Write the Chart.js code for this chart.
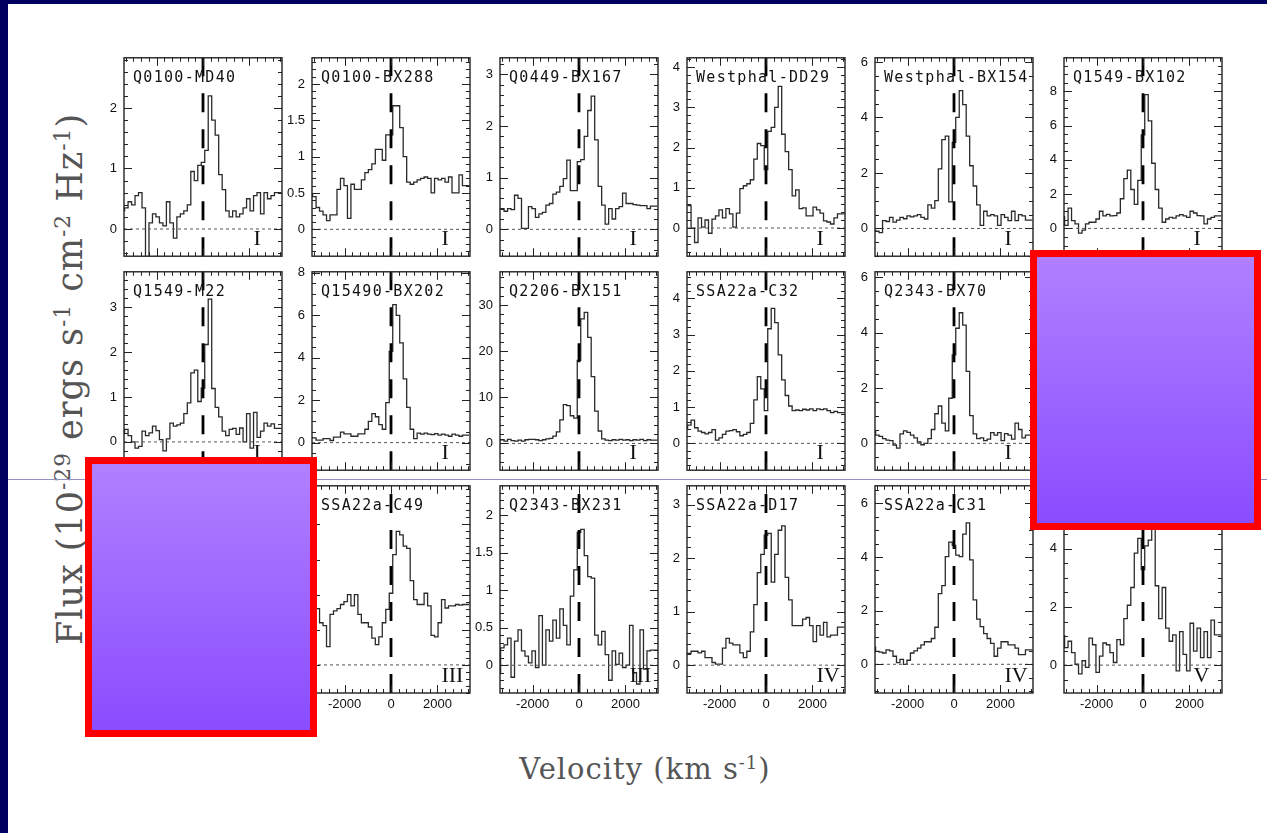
<!DOCTYPE html>
<html lang="es">
<head>
<meta charset="utf-8">
<title>Perfiles Lya por velocidad</title>
<script src="https://cdn.jsdelivr.net/npm/chart.js@4.4.1/dist/chart.umd.min.js"></script>
<style>
  html, body { margin: 0; padding: 0; }
  body { width: 1267px; height: 833px; position: relative; overflow: hidden; background: #fff; }
  .borde-izq { position: absolute; left: 0; top: 0; width: 8px; height: 833px; background: #000060; z-index: 4; }
  .borde-sup { position: absolute; left: 0; top: 0; width: 1267px; height: 4px; background: #000060; z-index: 4; }
  .linea { position: absolute; left: 8px; top: 479px; width: 1259px; height: 1px; background: #9090c4; z-index: 2; }
  canvas.panel { position: absolute; z-index: 1; }
  .tapa { position: absolute; box-sizing: border-box; border: 7px solid #ff0000; background: linear-gradient(#b080ff, #8a4cff); z-index: 3; }
  .titulo { position: absolute; font-family: "DejaVu Serif", serif; color: #555; white-space: nowrap; line-height: 1; letter-spacing: 1px; }
  .titulo sup { font-size: 0.62em; vertical-align: 0.55em; line-height: 0; }
  #tituloY { left: 70px; top: 379px; font-size: 35px; transform: translate(-50%, -50%) rotate(-90deg); }
  #tituloX { left: 645px; top: 755px; font-size: 29px; transform: translateX(-50%); }
</style>
</head>
<body>
<div class="borde-izq"></div>
<div class="borde-sup"></div>
<div class="linea"></div>
<div class="tapa" style="left:85px; top:457px; width:232px; height:280px;"></div>
<div class="tapa" style="left:1030px; top:250px; width:231px; height:280px;"></div>
<div class="titulo" id="tituloY">Flux (10<sup>-29</sup> ergs s<sup>-1</sup> cm<sup>-2</sup> Hz<sup>-1</sup>)</div>
<div class="titulo" id="tituloX">Velocity (km s<sup>-1</sup>)</div>

<script>
// ---------------- datos ----------------
const nombres = ["Q0100-MD40", "Q0100-BX288", "Q0449-BX167", "Westphal-DD29", "Westphal-BX154", "Q1549-BX102",
  "Q1549-M22", "Q15490-BX202", "Q2206-BX151", "SSA22a-C32", "Q2343-BX70",
  "SSA22a-C49", "Q2343-BX231", "SSA22a-D17", "SSA22a-C31", ""]; // el ultimo queda tapado
const clases = ["I", "I", "I", "I", "I", "I",
  "I", "I", "I", "I", "I",
  "III", "III", "IV", "IV", "V"];

const velTicks = [-2000, 0, 2000]; // etiquetas del eje x (solo fila de abajo)
const velMin = -3400;
const velMax = 3400;
const binInicio = -3375; // borde izquierdo del primer canal (km/s)
const binAncho = 150;

const yMin = [-0.45, -0.37, -0.52, -0.7, -1.0, -1.62, -0.63, -1.3, -5.8, -0.74, -0.97, -0.4, -0.37, -0.52, -1.07, -0.96];
const yMax = [2.83, 2.36, 3.32, 4.23, 6.15, 9.95, 3.79, 8.05, 37.2, 4.73, 6.2, 2.55, 2.39, 3.35, 6.65, 6.17];
const yTicks = [[0, 1, 2], [0, 0.5, 1, 1.5, 2], [0, 1, 2, 3], [0, 1, 2, 3, 4], [0, 2, 4, 6], [0, 2, 4, 6, 8],
  [0, 1, 2, 3], [0, 2, 4, 6, 8], [0, 10, 20, 30], [0, 1, 2, 3, 4], [0, 2, 4, 6],
  [0, 0.5, 1, 1.5, 2], [0, 0.5, 1, 1.5, 2], [0, 1, 2, 3], [0, 2, 4, 6], [0, 2, 4, 6]];
const yMenor = [0.2, 0.1, 0.2, 0.2, 0.5, 0.5, 0.2, 0.5, 2, 0.2, 0.5, 0.1, 0.1, 0.2, 0.5, 0.5];

// flujo por canal de velocidad
const f_Q0100_MD40 = [0.29, 0.35, 0.45, 0.4, 0.55, 0.6, 0.35, -0.5, 0.1, 0.25, 0.2, 0.1, 0.05, 0.45, 0.1, -0.15, 0.2, 0.25, 0.3, 0.4,
  0.95, 0.8, 1.05, 1.1, 1.3, 2.2, 1.8, 1.55, 0.9, 0.65, 0.3, 0.2, 0.3, 0.2, 0.25, 0.35, 0.5, 0.3, 0.55, 0.6, 0.25, 0.6, 0.5, 0.55, 0.6];
const f_Q0100_BX288 = [0.5, 0.45, 0.3, 0.25, 0.2, 0.12, 0.2, 0.2, 0.55, 0.7, 0.6, 0.15, 0.62, 0.55, 0.55, 0.68, 0.78, 0.82, 0.9, 1.1,
  1.1, 0.95, 1.3, 1.3, 1.7, 1.7, 1.4, 1.0, 0.65, 0.62, 0.65, 0.68, 0.7, 0.72, 0.7, 0.5, 0.7, 0.68, 0.7, 0.65, 0.72, 0.5, 0.5, 0.75, 0.6];
const f_Q0449_BX167 = [0.38, 0.4, 0.35, 0.4, 0.38, 0.66, 0.6, 0.02, 0.02, 0.44, 0.4, 0.23, 0.3, 0.33, 0.47, 0.5, 0.68, 0.72, 0.83, 0.98,
  1.34, 0.75, 0.75, 1.31, 1.35, 1.8, 2.3, 2.58, 1.73, 0.83, 0.47, 0.1, 0.4, 0.2, 0.4, 0.44, 0.7, 0.5, 0.5, 0.48, 0.47, 0.46, 0.46, 0.4, 0.45];
const f_Westphal_DD29 = [0.56, 0.56, 0.0, -0.36, 0.25, 0.02, 0.2, -0.13, 0.22, 0.3, 0.45, 0.25, 0.48, 0.35, 0.02, 0.37, 0.98, 1.05, 1.1, 1.2,
  1.71, 2.1, 2.05, 1.45, 2.4, 2.5, 3.0, 3.52, 2.33, 1.9, 1.45, 0.8, 0.95, 0.48, 0.5, 0.3, 0.3, 0.52, 0.45, 0.37, 0.18, 0.15, 0.1, 0.25, 0.35];
const f_Westphal_BX154 = [-0.05, -0.1, -0.15, 0.28, 0.25, 0.4, 0.23, 0.3, 0.4, 0.35, 0.45, 0.42, 0.45, 0.5, 0.4, 0.34, 0.85, 0.73, 1.0, 2.15,
  3.2, 3.33, 0.96, 3.1, 4.0, 4.97, 4.46, 3.33, 2.26, 1.53, 0.85, 0.11, 0.62, 0.45, 0.5, 0.45, 0.11, 0.5, 0.4, 0.28, 0.62, 0.28, 0.5, 0.45, 0.3];
const f_Q1549_BX102 = [0.73, 0.18, 1.18, 0.45, 0.27, -0.27, -0.1, 0.27, 0.36, 0.36, 0.55, 1.0, 0.73, 0.82, 0.73, 0.75, 0.9, 1.73, 2.9, 3.4,
  2.27, 1.4, 2.8, 5.45, 7.8, 6.27, 3.8, 2.27, 1.18, 0.36, 0.55, 0.64, 0.6, 0.73, 0.8, 0.73, 0.64, 1.0, 0.9, 0.75, 0.73, 0.27, 0.55, 0.64, 0.73];
const f_Q1549_M22 = [0.17, 0.28, 0.14, 0.0, -0.14, -0.1, 0.24, 0.14, 0.2, 0.35, 0.25, 0.05, -0.2, 0.07, 0.42, 0.35, 0.38, 0.42, 0.63, 0.87,
  1.54, 1.6, 0.9, 1.2, 2.17, 3.18, 1.19, 0.77, 0.56, 0.24, 0.14, 0.28, 0.3, 0.17, 0.31, 0.0, 0.63, -0.14, 0.66, 0.1, 0.24, 0.42, 0.35, 0.4, 0.3];
const f_Q15490_BX202 = [0.26, 0.22, 0.12, 0.12, 0.19, 0.19, 0.1, 0.26, 0.26, 0.49, 0.41, 0.41, 0.3, 0.3, 0.41, 0.41, 0.63, 1.0, 1.37, 1.22,
  0.85, 0.63, 1.88, 4.3, 6.5, 6.0, 4.7, 3.0, 1.66, 0.63, 0.19, 0.45, 0.4, 0.45, 0.4, 0.38, 0.42, 0.35, 0.4, 0.35, 0.3, 0.4, 0.35, 0.3, 0.35];
const f_Q2206_BX151 = [0.6, 0.8, 0.5, 0.9, 0.6, 0.5, 0.7, 0.5, 0.8, 0.9, 0.9, 0.8, 0.6, 0.8, 1.0, 1.1, 1.6, 2.5, 5.1, 8.4,
  8.2, 6.0, 5.5, 18, 27, 28.4, 23, 14.5, 7, 2.7, 1.0, 0.7, 0.6, 0.8, 0.7, 0.9, 0.7, 0.8, 0.6, 0.8, 0.7, 0.9, 0.6, 0.8, 0.7];
const f_SSA22a_C32 = [0.38, 0.5, 0.64, 0.43, 0.34, 0.3, 0.26, 0.3, 0.38, 0.09, 0.15, 0.25, 0.34, 0.35, 0.38, 0.32, 0.21, 0.25, 0.3, 0.55,
  1.2, 1.84, 1.5, 0.9, 3.16, 3.72, 3.33, 2.44, 1.75, 1.32, 1.03, 0.9, 0.92, 0.9, 0.94, 0.92, 0.95, 0.9, 0.95, 0.93, 0.95, 0.9, 0.85, 0.88, 0.85];
const f_Q2343_BX70 = [0.45, 0.3, 0.25, 0.17, 0.12, 0.1, -0.06, -0.17, 0.34, 0.45, 0.4, 0.3, 0.2, 0.05, -0.05, 0.0, 0.17, 0.5, 1.07, 1.35,
  0.73, 0.45, 1.63, 3.2, 4.16, 4.72, 4.27, 2.6, 1.0, 0.34, 0.17, 0.2, 0.1, 0.15, 0.39, 0.3, 0.39, 0.1, 0.35, 0.3, 0.15, 0.73, 0.5, 0.2, 0.3];
const f_SSA22a_C49 = [1.0, 1.02, 0.8, 0.6, 0.56, 0.26, 0.72, 0.77, 0.8, 0.86, 0.9, 1.0, 0.84, 1.0, 0.72, 0.6, 0.6, 0.54, 0.38, 0.29,
  0.4, 0.6, 0.79, 1.02, 1.57, 1.9, 1.85, 1.69, 1.66, 1.2, 0.93, 0.86, 0.86, 1.02, 0.84, 0.42, 0.4, 0.6, 0.93, 0.81, 0.84, 0.84, 0.86, 0.85, 0.86];
const f_Q2343_BX231 = [-0.12, 0.23, 0.27, 0.36, -0.16, 0.32, 0.47, 0.19, 0.12, 0.03, 0.19, -0.03, 0.66, 0.0, 0.47, 0.32, 0.6, 0.36, 0.75, 0.53,
  0.27, 0.92, 1.27, 1.77, 1.81, 1.46, 1.18, 1.16, 0.4, 0.27, 0.45, 0.14, -0.2, 0.19, 0.01, 0.16, -0.03, 0.0, 0.53, -0.1, -0.25, 0.47, -0.05, 0.19, 0.2];
const f_SSA22a_D17 = [0.2, 0.22, 0.26, 0.26, 0.23, 0.26, 0.14, 0.14, 0.05, 0.02, 0.02, 0.32, 0.5, 0.41, 0.38, 0.38, 0.23, 0.14, 0.26, 0.62,
  1.13, 1.73, 2.07, 2.43, 2.46, 1.55, 2.07, 2.52, 2.6, 1.64, 1.22, 0.74, 0.74, 0.74, 0.86, 0.89, 0.74, 0.44, 0.74, 0.56, 0.8, 0.53, 0.56, 0.56, 0.71];
const f_SSA22a_C31 = [0.66, 0.48, 0.45, 0.42, 0.54, 0.5, 0.3, 0.06, 0.18, 0.0, 0.15, 0.42, 0.5, 0.6, 0.72, 0.84, 0.84, 0.96, 1.38, 2.63,
  2.93, 4.01, 4.55, 4.43, 4.07, 4.01, 4.85, 5.27, 3.89, 2.4, 1.68, 1.4, 1.14, 0.96, 0.78, 0.3, 0.6, 0.84, 0.84, 0.72, 0.72, 0.6, 0.36, 0.36, 0.54];
const f_panelV = [1.04, 0.6, 0.82, 0.43, 0.03, -0.3, 0.15, -0.08, 0.93, 0.7, -0.25, 0.31, 0.76, 0.7, 0.43, 0.09, 0.88, 0.7, 1.6, 2.06,
  2.67, 3.85, 4.36, 3.29, 4.1, 4.3, 4.8, 2.73, 1.6, 2.67, 1.27, 0.82, 1.04, -0.2, 1.15, 0.37, -0.2, 1.44, 0.48, 1.27, 0.26, 1.15, 0.26, 1.55, 1.04];

const flujos = [f_Q0100_MD40, f_Q0100_BX288, f_Q0449_BX167, f_Westphal_DD29, f_Westphal_BX154, f_Q1549_BX102,
  f_Q1549_M22, f_Q15490_BX202, f_Q2206_BX151, f_SSA22a_C32, f_Q2343_BX70,
  f_SSA22a_C49, f_Q2343_BX231, f_SSA22a_D17, f_SSA22a_C31, f_panelV];

// ---------------- maquetacion ----------------
const colX = [124, 312, 500, 687, 875, 1064];
const filaY = [51, 265, 479];
const panelCol = [0, 1, 2, 3, 4, 5, 0, 1, 2, 3, 4, 1, 2, 3, 4, 5];
const panelFila = [0, 0, 0, 0, 0, 0, 1, 1, 1, 1, 1, 2, 2, 2, 2, 2];
const ANCHO = 158, ALTO = 214;
const IZQ = 32, DER = 6, ARR = 8, ABJ = 6, EJE_X = 22;

// marco tipo PGPLOT: caja, marcas hacia dentro, lineas de cero y textos
const marcoPGPLOT = {
  id: "marco",
  afterDatasetsDraw(chart, args, opts) {
    const ctx = chart.ctx;
    const a = chart.chartArea;
    const x = chart.scales.x;
    const y = chart.scales.y;
    ctx.save();

    // flujo cero (punteado gris)
    const y0 = y.getPixelForValue(0);
    ctx.strokeStyle = "#555";
    ctx.lineWidth = 1;
    ctx.setLineDash([3, 3]);
    ctx.beginPath();
    ctx.moveTo(a.left, y0);
    ctx.lineTo(a.right, y0);
    ctx.stroke();

    // velocidad cero (discontinua gruesa, de abajo hacia arriba)
    const x0 = x.getPixelForValue(0);
    ctx.strokeStyle = "#000";
    ctx.lineWidth = 2.8;
    ctx.setLineDash([19, 17]);
    ctx.beginPath();
    ctx.moveTo(x0, a.bottom);
    ctx.lineTo(x0, a.top);
    ctx.stroke();
    ctx.setLineDash([]);

    // marcas
    ctx.strokeStyle = "#222";
    ctx.lineWidth = 1;
    ctx.beginPath();
    const pasoX = 2000 / 6;
    for (let k = Math.ceil(velMin / pasoX); k <= Math.floor(velMax / pasoX); k++) {
      const px = Math.round(x.getPixelForValue(k * pasoX)) + 0.5;
      const largo = k % 6 === 0 ? 8 : 4;
      ctx.moveTo(px, a.top);
      ctx.lineTo(px, a.top + largo);
      ctx.moveTo(px, a.bottom);
      ctx.lineTo(px, a.bottom - largo);
    }
    const paso = opts.menor;
    for (let k = Math.ceil(y.min / paso - 1e-6); k <= Math.floor(y.max / paso + 1e-6); k++) {
      const v = k * paso;
      const py = Math.round(y.getPixelForValue(v)) + 0.5;
      const mayor = opts.mayores.some((m) => Math.abs(m - v) < paso / 10);
      const largo = mayor ? 8 : 4;
      ctx.moveTo(a.left, py);
      ctx.lineTo(a.left + largo, py);
      ctx.moveTo(a.right, py);
      ctx.lineTo(a.right - largo, py);
    }
    ctx.stroke();

    // caja
    ctx.lineWidth = 1.4;
    ctx.strokeRect(a.left, a.top, a.right - a.left, a.bottom - a.top);

    // nombre del objeto y clase
    ctx.fillStyle = "#111";
    ctx.textAlign = "left";
    ctx.textBaseline = "alphabetic";
    ctx.font = '15px "DejaVu Sans Mono"';
    ctx.letterSpacing = "1.3px";
    ctx.fillText(opts.nombre, a.left + 9, a.top + 24);
    ctx.letterSpacing = "0px";
    ctx.font = '22px "Liberation Serif"';
    ctx.fillText(opts.clase, x.getPixelForValue(2170), a.bottom - 11);
    ctx.restore();
  },
};

const fuenteTicks = { family: "Liberation Sans", size: 13 };

flujos.forEach(function (flujo, i) {
  const abajo = panelFila[i] === 2;
  const canvas = document.createElement("canvas");
  canvas.className = "panel";
  canvas.width = IZQ + ANCHO + DER;
  canvas.height = ARR + ALTO + (abajo ? EJE_X : 0) + ABJ;
  canvas.style.left = colX[panelCol[i]] - IZQ + "px";
  canvas.style.top = filaY[panelFila[i]] - ARR + "px";
  document.body.appendChild(canvas);

  // histograma: cada valor desde el borde izquierdo de su canal
  const puntos = flujo.map((f, j) => ({ x: binInicio + j * binAncho, y: f }));
  puntos.push({ x: binInicio + flujo.length * binAncho, y: flujo[flujo.length - 1] });

  new Chart(canvas, {
    type: "line",
    data: {
      datasets: [{
        data: puntos,
        stepped: "after",
        borderColor: "#2a2a2a",
        borderWidth: 1.3,
        pointRadius: 0,
        fill: false,
      }],
    },
    options: {
      responsive: false,
      maintainAspectRatio: false,
      animation: false,
      events: [],
      layout: { autoPadding: false, padding: { top: ARR, right: DER, bottom: ABJ, left: 0 } },
      plugins: {
        legend: { display: false },
        tooltip: { enabled: false },
        marco: { nombre: nombres[i], clase: clases[i], mayores: yTicks[i], menor: yMenor[i] },
      },
      scales: {
        x: {
          type: "linear",
          min: velMin,
          max: velMax,
          grid: { display: false, drawTicks: false },
          border: { display: false },
          ticks: { display: abajo, padding: 4, font: fuenteTicks, color: "#111", maxRotation: 0, autoSkip: false,
            callback: (v) => String(v) },
          afterBuildTicks: (s) => { s.ticks = velTicks.map((v) => ({ value: v })); },
          afterFit: (s) => { s.height = abajo ? EJE_X : 0; },
        },
        y: {
          type: "linear",
          min: yMin[i],
          max: yMax[i],
          grid: { display: false, drawTicks: false },
          border: { display: false },
          ticks: { padding: 7, font: fuenteTicks, color: "#111", autoSkip: false,
            callback: (v) => String(Math.round(v * 100) / 100) },
          afterBuildTicks: (s) => { s.ticks = yTicks[i].map((v) => ({ value: v })); },
          afterFit: (s) => { s.width = IZQ; },
        },
      },
    },
    plugins: [marcoPGPLOT],
  });
});
</script>
</body>
</html>
